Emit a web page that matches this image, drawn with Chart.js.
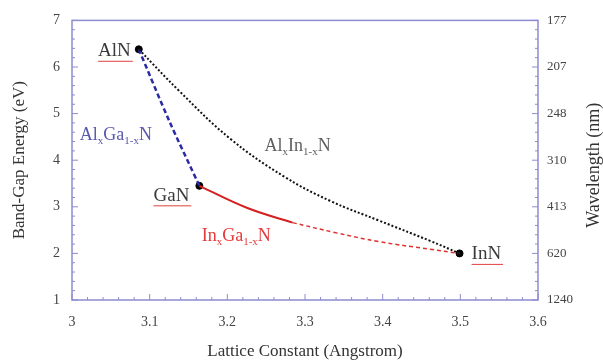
<!DOCTYPE html>
<html>
<head>
<meta charset="utf-8">
<script src="https://cdn.jsdelivr.net/npm/chart.js@4.4.0/dist/chart.umd.min.js"></script>
<style>
  html, body { margin: 0; padding: 0; background: #fff; }
  #wrap { width: 603px; height: 363px; }
</style>
</head>
<body>
<div id="wrap"><canvas id="graficaGap"></canvas></div>
<script>
// end-point compounds
const compoundNames = ['AlN', 'GaN', 'InN'];
const compoundA = [3.086, 3.164, 3.499];
const compoundE = [6.38, 3.45, 2.0];

// AlxIn1-xN (black dotted)
const alInA = [3.086, 3.139, 3.203, 3.272, 3.332, 3.396, 3.461, 3.499];
const alInE = [6.38, 5.47, 4.47, 3.66, 3.13, 2.70, 2.27, 2.0];

// AlxGa1-xN (blue dashed)
const alGaA = [3.086, 3.125, 3.164];
const alGaE = [6.38, 4.85, 3.45];

// InxGa1-xN, solid part then dashed part
const inGaSolidA = [3.164, 3.225, 3.284];
const inGaSolidE = [3.45, 2.98, 2.66];
const inGaDashA = [3.284, 3.338, 3.396, 3.461, 3.499];
const inGaDashE = [2.66, 2.45, 2.25, 2.09, 2.0];

// right axis: wavelength for energies 1..7 eV
const wavelengthLabels = ['1240', '620', '413', '310', '248', '207', '177'];

const pts = (xs, ys) => xs.map((x, i) => ({ x: x, y: ys[i] }));

const serif = '"Liberation Serif", "DejaVu Serif", serif';
const frameColor = '#8c8cd0';

// frame + inward ticks
const frameTicks = {
  id: 'frameTicks',
  beforeDatasetsDraw(chart) {
    const { ctx, chartArea: a, scales } = chart;
    ctx.save();
    ctx.strokeStyle = frameColor;
    ctx.lineWidth = 1.5;
    ctx.strokeRect(a.left, a.top, a.right - a.left, a.bottom - a.top);
    ctx.lineWidth = 1;
    ctx.beginPath();
    for (let i = 0; i <= 30; i++) {
      const px = scales.x.getPixelForValue(3 + i * 0.02);
      const len = i % 5 === 0 ? 6 : 3;
      ctx.moveTo(px, a.bottom);
      ctx.lineTo(px, a.bottom - len);
    }
    for (let i = 0; i <= 30; i++) {
      const py = scales.y.getPixelForValue(1 + i * 0.2);
      const len = i % 5 === 0 ? 6 : 3;
      ctx.moveTo(a.left, py);
      ctx.lineTo(a.left + len, py);
      ctx.moveTo(a.right, py);
      ctx.lineTo(a.right - len, py);
    }
    ctx.stroke();
    ctx.restore();
  },
  afterDraw(chart) {
    // right title reads bottom to top, like the left one
    const { ctx, chartArea: a } = chart;
    ctx.save();
    ctx.translate(594, (a.top + a.bottom) / 2 + 5);
    ctx.rotate(-Math.PI / 2);
    ctx.font = '18px ' + serif;
    ctx.fillStyle = '#333';
    ctx.textAlign = 'center';
    ctx.textBaseline = 'middle';
    ctx.fillText('Wavelength (nm)', 0, 0);
    ctx.restore();
  }
};

function drawRich(ctx, parts, x, y, color) {
  ctx.fillStyle = color;
  ctx.textAlign = 'left';
  ctx.textBaseline = 'alphabetic';
  let cx = x;
  parts.forEach(p => {
    const sub = p[1];
    ctx.font = (sub ? '11px ' : '18px ') + serif;
    ctx.fillText(p[0], cx, sub ? y + 4 : y);
    cx += ctx.measureText(p[0]).width;
  });
}

// text labels next to the curves
const curveLabels = {
  id: 'curveLabels',
  afterDatasetsDraw(chart) {
    const { ctx, scales: { x, y } } = chart;
    ctx.save();
    ctx.font = '19px ' + serif;
    ctx.textBaseline = 'alphabetic';
    compoundNames.forEach((name, i) => {
      const px = x.getPixelForValue(compoundA[i]);
      const py = y.getPixelForValue(compoundE[i]);
      const w = ctx.measureText(name).width;
      let tx, ty;
      if (name === 'AlN') { tx = px - 8 - w; ty = py + 7; }
      if (name === 'GaN') { tx = px - 10 - w; ty = py + 15; }
      if (name === 'InN') { tx = px + 12; ty = py + 6; }
      ctx.fillStyle = '#3a3a3a';
      ctx.textAlign = 'left';
      ctx.fillText(name, tx, ty);
      ctx.strokeStyle = '#e04040';
      ctx.lineWidth = 1;
      ctx.beginPath();
      ctx.moveTo(tx, ty + 5);
      ctx.lineTo(tx + w + 2, ty + 5);
      ctx.stroke();
    });
    drawRich(ctx, [['Al', 0], ['x', 1], ['Ga', 0], ['1-x', 1], ['N', 0]],
      x.getPixelForValue(3.010), y.getPixelForValue(4.43), '#5858b0');
    drawRich(ctx, [['Al', 0], ['x', 1], ['In', 0], ['1-x', 1], ['N', 0]],
      x.getPixelForValue(3.248), y.getPixelForValue(4.19), '#606060');
    drawRich(ctx, [['In', 0], ['x', 1], ['Ga', 0], ['1-x', 1], ['N', 0]],
      x.getPixelForValue(3.167), y.getPixelForValue(2.26), '#e23a3a');
    ctx.restore();
  }
};

new Chart(document.getElementById('graficaGap'), {
  type: 'scatter',
  data: {
    datasets: [{
      label: 'AlInN',
      data: pts(alInA, alInE),
      showLine: true,
      borderColor: '#111',
      borderWidth: 2,
      borderDash: [2, 2],
      tension: 0.4,
      pointRadius: 0
    }, {
      label: 'AlGaN',
      data: pts(alGaA, alGaE),
      showLine: true,
      borderColor: '#2a2aa8',
      borderWidth: 2.5,
      borderDash: [5, 3],
      tension: 0.3,
      pointRadius: 0
    }, {
      label: 'InGaN solid',
      data: pts(inGaSolidA, inGaSolidE),
      showLine: true,
      borderColor: '#d42020',
      borderWidth: 2,
      tension: 0.4,
      pointRadius: 0
    }, {
      label: 'InGaN dashed',
      data: pts(inGaDashA, inGaDashE),
      showLine: true,
      borderColor: '#e03030',
      borderWidth: 1.5,
      borderDash: [4, 3],
      tension: 0.4,
      pointRadius: 0
    }, {
      label: 'compounds',
      data: pts(compoundA, compoundE),
      showLine: false,
      pointRadius: 3.5,
      pointBackgroundColor: '#000',
      pointBorderColor: '#000'
    }]
  },
  options: {
    responsive: true,
    maintainAspectRatio: false,
    animation: false,
    layout: { padding: { top: 18, left: 0, right: 0, bottom: 0 } },
    plugins: { legend: { display: false }, tooltip: { enabled: false } },
    scales: {
      x: {
        type: 'linear',
        min: 3,
        max: 3.6,
        afterFit(scale) { scale.height = 63; },
        grid: { display: false, drawTicks: false },
        border: { display: false },
        ticks: {
          stepSize: 0.1,
          padding: 14,
          color: '#444',
          font: { family: serif, size: 14 },
          callback: v => String(Number(v.toFixed(1)))
        },
        title: {
          display: true,
          text: 'Lattice Constant (Angstrom)',
          color: '#333',
          font: { family: serif, size: 17 },
          padding: { bottom: 1 }
        }
      },
      y: {
        min: 1,
        max: 7,
        afterFit(scale) { scale.width = 72; },
        grid: { display: false, drawTicks: false },
        border: { display: false },
        ticks: {
          stepSize: 1,
          padding: 12,
          color: '#444',
          font: { family: serif, size: 14 }
        },
        title: {
          display: true,
          text: 'Band-Gap Energy (eV)',
          color: '#333',
          font: { family: serif, size: 17 },
          padding: { top: 9 }
        }
      },
      y2: {
        position: 'right',
        min: 1,
        max: 7,
        afterFit(scale) { scale.width = 65; },
        grid: { display: false, drawTicks: false },
        border: { display: false },
        ticks: {
          stepSize: 1,
          padding: 9,
          color: '#444',
          font: { family: serif, size: 13 },
          callback: v => wavelengthLabels[Math.round(v) - 1]
        }
      }
    }
  },
  plugins: [frameTicks, curveLabels]
});
</script>
</body>
</html>
